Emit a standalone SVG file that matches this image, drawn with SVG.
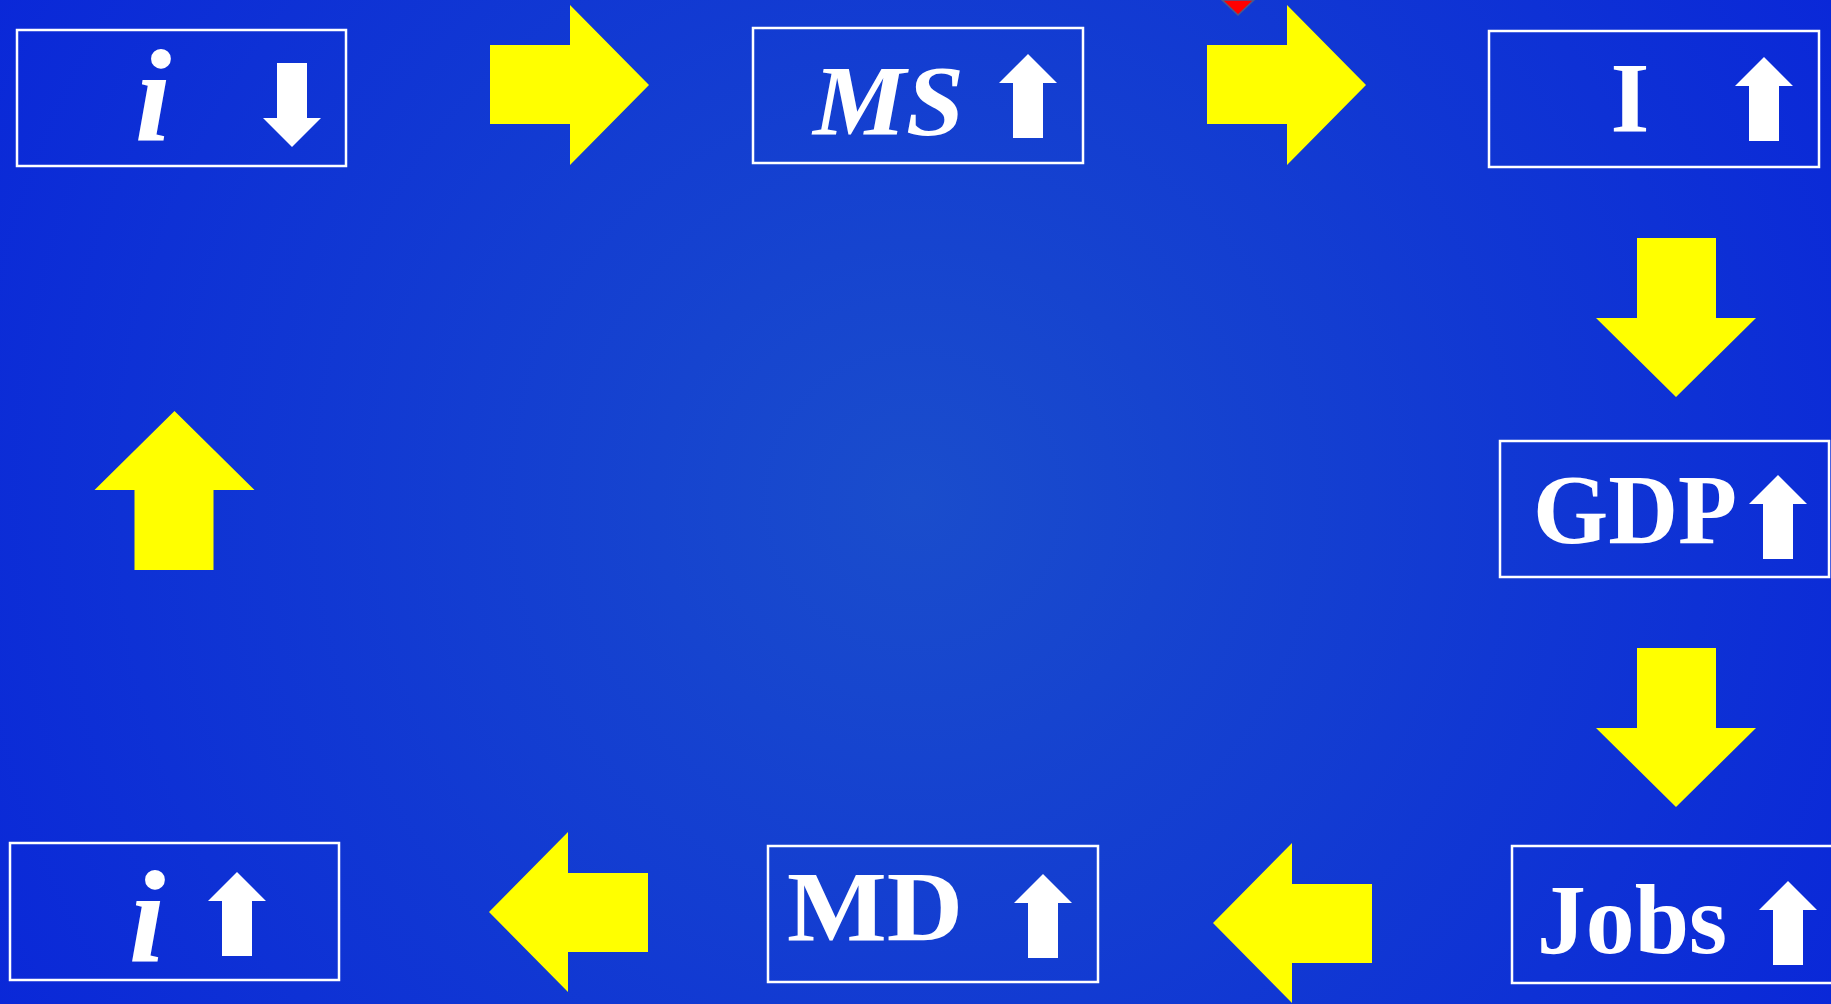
<svg xmlns="http://www.w3.org/2000/svg" xmlns:xlink="http://www.w3.org/1999/xlink" width="1831" height="1004" viewBox="0 0 1831 1004">
<style>
.box{fill:none;stroke:#ffffff;stroke-width:2.5}
.lbl{fill:#ffffff;font-family:"Liberation Serif","Times New Roman",serif;font-size:100px;font-weight:bold}
.it{font-style:italic}
.ii{font-size:132px;font-weight:bold;font-style:italic}
.warrow{fill:#ffffff}
.yarrow{fill:#ffff00}
</style>
<defs>
<radialGradient id="bg" cx="915" cy="500" r="1050" gradientUnits="userSpaceOnUse">
<stop offset="0" stop-color="#1a4dcc"/>
<stop offset="1" stop-color="#0a28d8"/>
</radialGradient>
<polygon id="wup" points="0,0 29,29 15,29 15,84 -15,84 -15,29 -29,29"/>
<polygon id="yright" points="0,0 -79,-80 -79,-40 -159,-40 -159,39 -79,39 -79,80"/>
</defs>
<rect x="0" y="0" width="1831" height="1004" fill="url(#bg)"/>
<polygon points="1222,0 1254,0 1238,15" fill="#ff0000" stroke="#4a5a8a" stroke-width="1.5"/>

<g id="connectors">
<use href="#yright" class="yarrow" transform="translate(649,85)"/>
<use href="#yright" class="yarrow" transform="translate(1366,85)"/>
<use href="#yright" class="yarrow" transform="translate(1676,397) rotate(90)"/>
<use href="#yright" class="yarrow" transform="translate(1676,807) rotate(90)"/>
<use href="#yright" class="yarrow" transform="translate(1213,923) rotate(180)"/>
<use href="#yright" class="yarrow" transform="translate(489,912) rotate(180)"/>
<use href="#yright" class="yarrow" transform="translate(174.5,411) rotate(-90)"/>
</g>

<g id="node-i-down">
<rect class="box" x="17" y="30" width="329" height="136"/>
<text class="lbl ii" x="153" y="140" text-anchor="middle">i</text>
<use href="#wup" class="warrow" transform="translate(292,147) scale(1,-1)"/>
</g>

<g id="node-ms-up">
<rect class="box" x="753" y="28" width="330" height="135"/>
<text class="lbl it" x="813" y="134" textLength="151" lengthAdjust="spacingAndGlyphs">MS</text>
<use href="#wup" class="warrow" transform="translate(1028,54)"/>
</g>

<g id="node-I-up">
<rect class="box" x="1489" y="31" width="330" height="136"/>
<text class="lbl" x="1630" y="131" text-anchor="middle">I</text>
<use href="#wup" class="warrow" transform="translate(1764,57)"/>
</g>

<g id="node-gdp-up">
<rect class="box" x="1500" y="441" width="329" height="136"/>
<text class="lbl" x="1533" y="543" textLength="204" lengthAdjust="spacingAndGlyphs">GDP</text>
<use href="#wup" class="warrow" transform="translate(1778,475)"/>
</g>

<g id="node-jobs-up">
<rect class="box" x="1512" y="846" width="340" height="137"/>
<text class="lbl" x="1537" y="953" textLength="190" lengthAdjust="spacingAndGlyphs">Jobs</text>
<use href="#wup" class="warrow" transform="translate(1788,881)"/>
</g>

<g id="node-md-up">
<rect class="box" x="768" y="846" width="330" height="136"/>
<text class="lbl" x="787" y="940" textLength="176" lengthAdjust="spacingAndGlyphs">MD</text>
<use href="#wup" class="warrow" transform="translate(1043,874)"/>
</g>

<g id="node-i-up">
<rect class="box" x="10" y="843" width="329" height="137"/>
<text class="lbl ii" x="147" y="961" text-anchor="middle">i</text>
<use href="#wup" class="warrow" transform="translate(237,872)"/>
</g>
</svg>
